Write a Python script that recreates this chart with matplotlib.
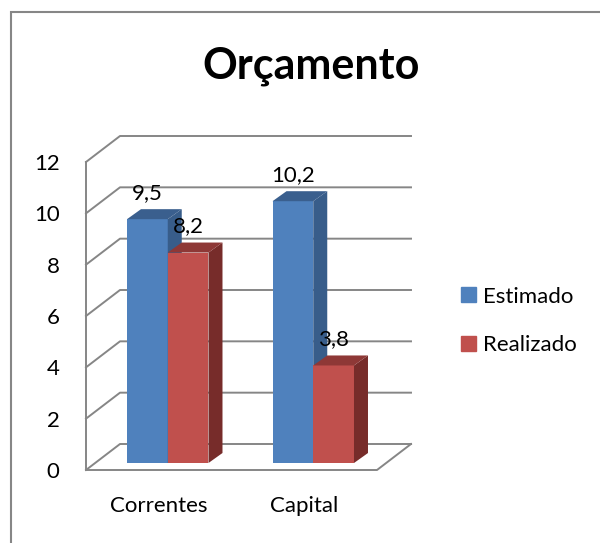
import matplotlib.pyplot as plt
import numpy as np
from matplotlib.patches import Polygon, Patch, Rectangle
from matplotlib.lines import Line2D
from matplotlib.transforms import IdentityTransform, offset_copy

plt.rcParams['font.family'] = ['Lato', 'DejaVu Sans']

categorias = ['Correntes', 'Capital']
series = ['Estimado', 'Realizado']
estimado = [9.5, 10.2]
realizado = [8.2, 3.8]
rotulos = [['9,5', '10,2'], ['8,2', '3,8']]
yticks = [0, 2, 4, 6, 8, 10, 12]

# front, side, top
cores = [['#4F81BD', '#385D8A', '#3A5F8E'],
         ['#C0504D', '#772C2A', '#8E3836']]
cinza = '#868686'

W, H = 600, 543
fig = plt.figure(figsize=(W / 100, H / 100), dpi=100)
ax = fig.add_axes([86 / W, 1 - 470 / H, (377 - 86) / W, (470 - 162) / H])
ax.set_xlim(0, 2)
ax.set_ylim(0, 12)
ax.set_autoscale_on(False)
ax.patch.set_visible(False)
for s in ax.spines.values():
    s.set_visible(False)
ax.set_yticks(yticks)
ax.set_xticks([0.5, 1.5], categorias)
ax.tick_params(length=0, labelsize=16)
ax.tick_params(axis='y', pad=19)
ax.tick_params(axis='x', pad=19)

fundo = np.array([34, 26])   # depth of the box, pixels
frente = np.array([9, 7])    # bar plane
prof = np.array([14, 10])    # bar depth
ident = IdentityTransform()


def p(x, v, d=(0, 0)):
    return ax.transData.transform((x, v)) + np.asarray(d)


def linha(pts):
    pts = np.array(pts)
    ax.add_line(Line2D(pts[:, 0], pts[:, 1], transform=ident, color=cinza,
                       lw=1.4, clip_on=False, zorder=1))


# walls / gridlines
for v in yticks:
    linha([p(0, v), p(0, v, fundo), p(2, v, fundo)])
linha([p(0, 0), p(0, 12)])
linha([p(0, 0), p(2, 0), p(2, 0, fundo)])

# bars
bw = 0.28
tr_frente = offset_copy(ax.transData, x=frente[0], y=frente[1], units='dots')
tr_rot = offset_copy(ax.transData, x=frente[0], y=frente[1] + 26, units='dots')
for i in range(len(categorias)):
    for j, vals in enumerate([estimado, realizado]):
        v = vals[i]
        xl = 0.5 + i - bw + j * bw
        xr = xl + bw
        cf, cs, ct = cores[j]
        ax.bar(xl, v, width=bw, align='edge', color=cf, transform=tr_frente,
               zorder=2, clip_on=False)
        lado = [p(xr, 0, frente), p(xr, v, frente), p(xr, v, frente + prof),
                p(xr, 0, frente + prof)]
        topo = [p(xl, v, frente), p(xr, v, frente), p(xr, v, frente + prof),
                p(xl, v, frente + prof)]
        ax.add_patch(Polygon(lado, closed=True, transform=ident, color=cs,
                             lw=0, zorder=2, clip_on=False))
        ax.add_patch(Polygon(topo, closed=True, transform=ident, color=ct,
                             lw=0, zorder=2, clip_on=False))
        ax.text(xl + bw / 2, v, rotulos[j][i], transform=tr_rot, ha='center',
                va='center', fontsize=16, zorder=3)

fig.text(311 / W, 1 - 79 / H, 'Orçamento', ha='center', va='baseline',
         fontsize=31, fontweight='bold')

handles = [Patch(color=cores[0][0]), Patch(color=cores[1][0])]
fig.legend(handles, series, loc='center left',
           bbox_to_anchor=(461 / W, 1 - 321 / H), frameon=False, fontsize=16,
           handlelength=0.68, handleheight=0.68, handletextpad=0.3,
           labelspacing=1.3, borderpad=0, borderaxespad=0)

fig.add_artist(Rectangle((11 / W, -0.05), 1, 1.05 - 12 / H,
                         transform=fig.transFigure, fill=False,
                         edgecolor=cinza, lw=1.5))

fig.savefig('out.png', dpi=100)
